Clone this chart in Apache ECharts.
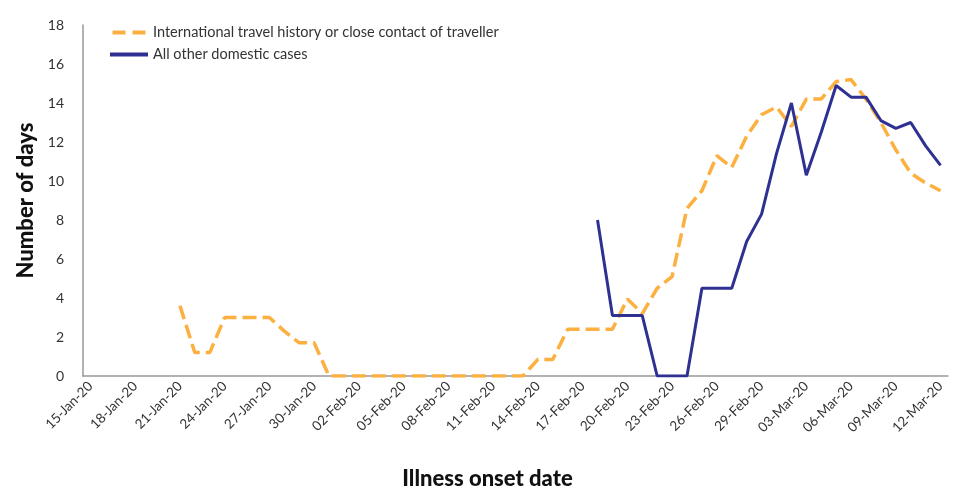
<!DOCTYPE html>
<html>
<head>
<meta charset="utf-8">
<script src="https://cdn.jsdelivr.net/npm/echarts@6/dist/echarts.min.js"></script>
<style>html,body{margin:0;padding:0;background:#fff;}#c{width:980px;height:500px;}</style>
</head>
<body>
<div id="c"></div>
<script>
// Daily categories 15-Jan-20 .. 12-Mar-20
const dates = [
 '15-Jan-20','16-Jan-20','17-Jan-20','18-Jan-20','19-Jan-20','20-Jan-20','21-Jan-20','22-Jan-20','23-Jan-20','24-Jan-20',
 '25-Jan-20','26-Jan-20','27-Jan-20','28-Jan-20','29-Jan-20','30-Jan-20','31-Jan-20','01-Feb-20','02-Feb-20','03-Feb-20',
 '04-Feb-20','05-Feb-20','06-Feb-20','07-Feb-20','08-Feb-20','09-Feb-20','10-Feb-20','11-Feb-20','12-Feb-20','13-Feb-20',
 '14-Feb-20','15-Feb-20','16-Feb-20','17-Feb-20','18-Feb-20','19-Feb-20','20-Feb-20','21-Feb-20','22-Feb-20','23-Feb-20',
 '24-Feb-20','25-Feb-20','26-Feb-20','27-Feb-20','28-Feb-20','29-Feb-20','01-Mar-20','02-Mar-20','03-Mar-20','04-Mar-20',
 '05-Mar-20','06-Mar-20','07-Mar-20','08-Mar-20','09-Mar-20','10-Mar-20','11-Mar-20','12-Mar-20'
];
const seriesNames = ['International travel history or close contact of traveller', 'All other domestic cases'];
const international = [
 null,null,null,null,null,null,3.6,1.2,1.2,3.0,
 3.0,3.0,3.0,2.3,1.7,1.7,0,0,0,0,
 0,0,0,0,0,0,0,0,0,0,
 0.85,0.85,2.4,2.4,2.4,2.4,3.95,3.2,4.5,5.1,
 8.6,9.5,11.3,10.7,12.3,13.4,13.8,12.8,14.2,14.2,
 15.1,15.2,14.2,13.0,11.6,10.4,9.9,9.5
];
const domestic = [
 null,null,null,null,null,null,null,null,null,null,
 null,null,null,null,null,null,null,null,null,null,
 null,null,null,null,null,null,null,null,null,null,
 null,null,null,null,8.0,3.1,3.1,3.1,0,0,
 0,4.5,4.5,4.5,6.9,8.3,11.4,14.0,10.3,12.5,
 14.9,14.3,14.3,13.1,12.7,13.0,11.8,10.8
];
const yTicks = [0, 2, 4, 6, 8, 10, 12, 14, 16, 18];
const xTitle = 'Illness onset date';
const yTitle = 'Number of days';

const ORANGE = '#FBB040';
const BLUE = '#2E3192';
const FONT = 'Lato, "Noto Sans", sans-serif';
const chart = echarts.init(document.getElementById('c'));
chart.setOption({
  animation: false,
  textStyle: { fontFamily: FONT },
  legend: {
    orient: 'vertical', left: 105, top: 20,
    itemWidth: 38, itemHeight: 4, itemGap: 7,
    textStyle: { fontSize: 14.5, color: '#333', fontFamily: FONT },
    data: [
      { name: seriesNames[0], icon: 'path://M0,0h13v4h-13z M20,0h13v4h-13z', itemStyle: { color: ORANGE } },
      { name: seriesNames[1], icon: 'rect', itemStyle: { color: BLUE } }
    ]
  },
  grid: { left: 83, right: 32, top: 25, bottom: 124, containLabel: false },
  xAxis: {
    type: 'category', data: dates, boundaryGap: true,
    name: xTitle, nameLocation: 'middle', nameGap: 92,
    nameTextStyle: { fontSize: 22, fontWeight: 900, color: '#111', fontFamily: FONT, padding: [0, 56, 0, 0] },
    axisLine: { lineStyle: { color: '#999', width: 1.5 } },
    axisTick: { interval: 2, length: 5, lineStyle: { color: '#999' } },
    axisLabel: { interval: 2, rotate: 45, fontSize: 13.5, color: '#333', margin: 8 }
  },
  yAxis: {
    type: 'value', min: yTicks[0], max: yTicks[yTicks.length - 1], interval: 2,
    name: yTitle, nameLocation: 'middle', nameGap: 46,
    nameTextStyle: { fontSize: 22, fontWeight: 900, color: '#111', fontFamily: FONT },
    axisLine: { show: true, lineStyle: { color: '#999', width: 1.5 } },
    axisTick: { show: false },
    splitLine: { show: false },
    axisLabel: { fontSize: 14, color: '#333', margin: 19 }
  },
  series: [
    { name: seriesNames[0], type: 'line', data: international, symbol: 'none', connectNulls: false,
      lineStyle: { color: ORANGE, width: 3.5, type: [14, 6] }, itemStyle: { color: ORANGE } },
    { name: seriesNames[1], type: 'line', data: domestic, symbol: 'none', connectNulls: false,
      lineStyle: { color: BLUE, width: 3 }, itemStyle: { color: BLUE } }
  ]
});
</script>
</body>
</html>
